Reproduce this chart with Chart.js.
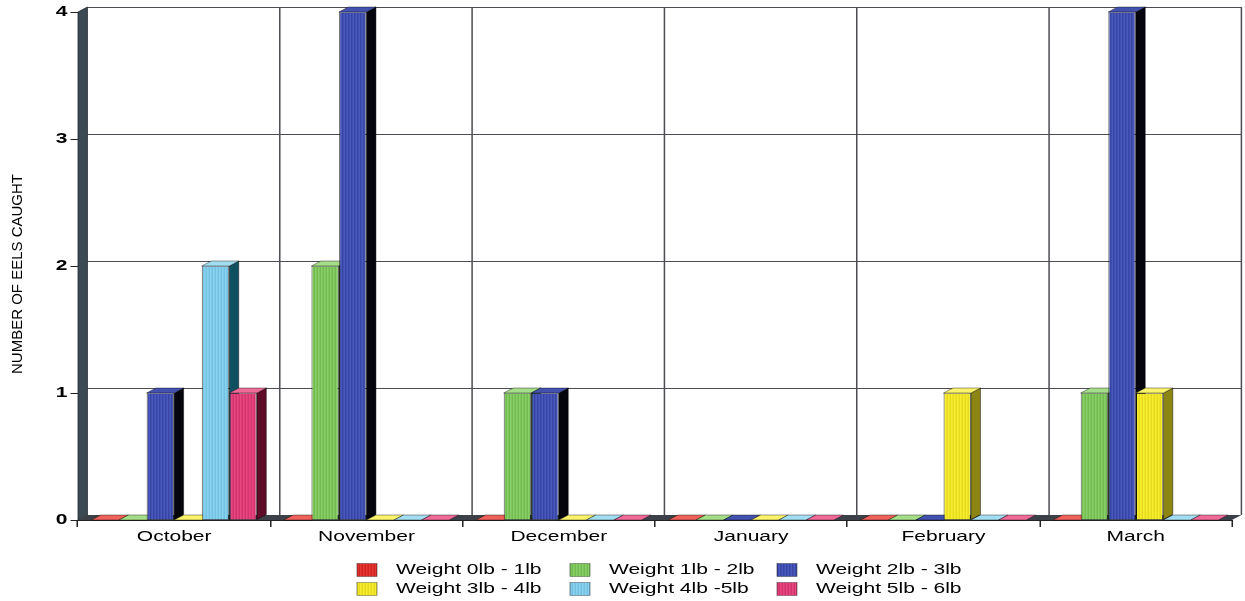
<!DOCTYPE html>
<html>
<head>
<meta charset="utf-8">
<title>Number of eels caught</title>
<script src="https://cdn.jsdelivr.net/npm/chart.js@4.4.1/dist/chart.umd.min.js"></script>
<style>
  html, body { margin: 0; padding: 0; background: #ffffff; }
  canvas { display: block; }
</style>
</head>
<body>
<canvas id="eels" width="830" height="601"></canvas>
<script>
// ---- data ----
const months = ['October', 'November', 'December', 'January', 'February', 'March'];
const seriesLabels = ['Weight 0lb - 1lb', 'Weight 1lb - 2lb', 'Weight 2lb - 3lb',
                      'Weight 3lb - 4lb', 'Weight 4lb -5lb', 'Weight 5lb - 6lb'];
const weight0to1 = [0, 0, 0, 0, 0, 0];
const weight1to2 = [0, 2, 1, 0, 0, 1];
const weight2to3 = [1, 4, 1, 0, 0, 4];
const weight3to4 = [0, 0, 0, 0, 1, 1];
const weight4to5 = [2, 0, 0, 0, 0, 0];
const weight5to6 = [1, 0, 0, 0, 0, 0];
const yTicks = [0, 1, 2, 3, 4];

// ---- look ----
const SQUASH = 1.5;           // horizontal stretch applied to the whole drawing
const LOGICAL_W = 830, HEIGHT = 601;
const DEPTH_X = 6.3, DEPTH_Y = 5;
const FONT = "'Liberation Sans', Arial, Helvetica, sans-serif";
const INK = '#000000';
const WALL = '#3c4a53', FLOOR = '#3b4146', GRID = '#4c4c52';

// front base, stripe, top face, side face
const palette = [
  ['#ee3b37', '#c8201e', '#f0615a', '#6e0d0b'],
  ['#8fd46c', '#6cb64b', '#a6dd88', '#2f5e1c'],
  ['#33419f', '#4d5dc2', '#4352ae', '#04050d'],
  ['#fbf232', '#e2d61a', '#fbf36a', '#8c8514'],
  ['#8fd5ef', '#6cbfe0', '#a3ddf2', '#0f5060'],
  ['#ec4b83', '#cf2f69', '#f06a98', '#5e0c27']
];

const canvas = document.getElementById('eels');
const ctx = canvas.getContext('2d');

function stripes(base, line) {
  const c = document.createElement('canvas');
  c.width = 2; c.height = 1;
  const g = c.getContext('2d');
  g.fillStyle = base; g.fillRect(0, 0, 2, 1);
  g.fillStyle = line; g.fillRect(1, 0, 1, 1);
  return ctx.createPattern(c, 'repeat');
}
const fills = palette.map(p => stripes(p[0], p[1]));

const seriesValues = [weight0to1, weight1to2, weight2to3, weight3to4, weight4to5, weight5to6];

function poly(c, pts, fill, stroke) {
  c.beginPath();
  c.moveTo(pts[0][0], pts[0][1]);
  for (let i = 1; i < pts.length; i++) c.lineTo(pts[i][0], pts[i][1]);
  c.closePath();
  c.fillStyle = fill;
  c.fill();
  if (stroke) { c.strokeStyle = stroke; c.lineWidth = 0.6; c.stroke(); }
}

// back wall, side wall, floor, and the depth faces of every bar
const depth3d = {
  id: 'depth3d',
  beforeDatasetsDraw(chart) {
    const { ctx: c, chartArea: a, scales: { x, y } } = chart;
    c.save();
    c.strokeStyle = GRID;
    c.lineWidth = 1;
    yTicks.forEach(v => {
      if (v === 0) return;
      const py = Math.round(y.getPixelForValue(v) - DEPTH_Y) + 0.5;
      c.beginPath(); c.moveTo(a.left + DEPTH_X, py); c.lineTo(a.right + DEPTH_X, py); c.stroke();
    });
    const step = x.getPixelForValue(1) - x.getPixelForValue(0);
    for (let i = 1; i <= months.length; i++) {
      const px = x.getPixelForValue(i) - step / 2 + DEPTH_X;
      c.beginPath(); c.moveTo(px, a.top - DEPTH_Y); c.lineTo(px, a.bottom - DEPTH_Y); c.stroke();
    }
    poly(c, [[a.left, a.top], [a.left + DEPTH_X, a.top - DEPTH_Y],
             [a.left + DEPTH_X, a.bottom - DEPTH_Y], [a.left, a.bottom]], WALL, '#1c2328');
    poly(c, [[a.left, a.bottom], [a.right, a.bottom],
             [a.right + DEPTH_X, a.bottom - DEPTH_Y], [a.left + DEPTH_X, a.bottom - DEPTH_Y]], FLOOR);

    chart.data.datasets.forEach((ds, di) => {
      const meta = chart.getDatasetMeta(di);
      const [, , topCol, sideCol] = palette[di];
      meta.data.forEach(bar => {
        const { x: cx, y: top, base, width } = bar.getProps(['x', 'y', 'base', 'width'], true);
        const l = cx - width / 2, r = cx + width / 2;
        if (base - top > 0.5) {
          poly(c, [[r, top], [r + DEPTH_X, top - DEPTH_Y], [r + DEPTH_X, base - DEPTH_Y], [r, base]],
               sideCol, 'rgba(0,0,0,0.6)');
        }
        poly(c, [[l, top], [r, top], [r + DEPTH_X, top - DEPTH_Y], [l + DEPTH_X, top - DEPTH_Y]],
             topCol, 'rgba(0,0,0,0.5)');
      });
    });
    c.restore();
  }
};

// three-column legend under the months
const legendGrid = {
  id: 'legendGrid',
  afterDraw(chart) {
    const c = chart.ctx;
    const cols = [238, 380, 518];
    const rows = [570, 589];
    c.save();
    c.font = '14px ' + FONT;
    c.textBaseline = 'middle';
    c.textAlign = 'left';
    chart.data.datasets.forEach((ds, i) => {
      const bx = cols[i % 3], cy = rows[Math.floor(i / 3)];
      c.fillStyle = ds.backgroundColor;
      c.fillRect(bx, cy - 6.5, 13.3, 13);
      c.strokeStyle = 'rgba(0,0,0,0.45)';
      c.lineWidth = 0.7;
      c.strokeRect(bx, cy - 6.5, 13.3, 13);
      c.fillStyle = INK;
      c.fillText(ds.label, bx + 26, cy + 0.5);
    });
    c.restore();
  }
};

// rotated y-axis title, drawn without the horizontal stretch
const yTitle = {
  id: 'yTitle',
  afterDraw(chart) {
    const c = chart.ctx;
    c.save();
    c.setTransform(1, 0, 0, 1, 0, 0);
    c.translate(18, 274);
    c.rotate(-Math.PI / 2);
    c.font = '15px ' + FONT;
    c.fillStyle = INK;
    c.textAlign = 'center';
    c.textBaseline = 'middle';
    c.fillText('NUMBER OF EELS CAUGHT', 0, 0);
    c.restore();
  }
};

const chart = new Chart(canvas, {
  type: 'bar',
  data: {
    labels: months,
    datasets: seriesValues.map((vals, i) => ({
      label: seriesLabels[i],
      data: vals,
      backgroundColor: fills[i],
      borderColor: 'rgba(20,20,20,0.55)',
      borderWidth: 0.8,
      categoryPercentage: 0.86,
      barPercentage: 1.0
    }))
  },
  options: {
    responsive: false,
    animation: false,
    devicePixelRatio: 1,
    layout: { padding: { top: 12, right: 8.7, left: 0, bottom: 0 } },
    plugins: {
      legend: { display: false },
      tooltip: { enabled: false }
    },
    scales: {
      x: {
        afterFit(s) { s.height = 81; },
        grid: { drawOnChartArea: false, drawTicks: true, tickLength: 7, color: '#222', offset: true },
        border: { display: true, color: '#222', width: 1 },
        ticks: { color: INK, padding: 2, font: { family: FONT, size: 14 }, autoSkip: false, maxRotation: 0 }
      },
      y: {
        min: 0,
        max: 4,
        afterFit(s) { s.width = 52; },
        afterBuildTicks(s) { s.ticks = yTicks.map(v => ({ value: v })); },
        grid: { drawOnChartArea: false, drawTicks: true, tickLength: 5, color: '#222' },
        border: { display: true, color: '#222', width: 1 },
        ticks: { color: INK, padding: 2, font: { family: FONT, size: 14, weight: 'bold' } },
        title: { display: false }
      }
    }
  },
  plugins: [depth3d, legendGrid, yTitle]
});

// widen the bitmap and stretch every drawing horizontally
canvas.width = Math.round(LOGICAL_W * SQUASH);
canvas.height = HEIGHT;
canvas.style.width = canvas.width + 'px';
canvas.style.height = HEIGHT + 'px';
chart.ctx.setTransform(SQUASH, 0, 0, 1, 0, 0);
chart.draw();
</script>
</body>
</html>
